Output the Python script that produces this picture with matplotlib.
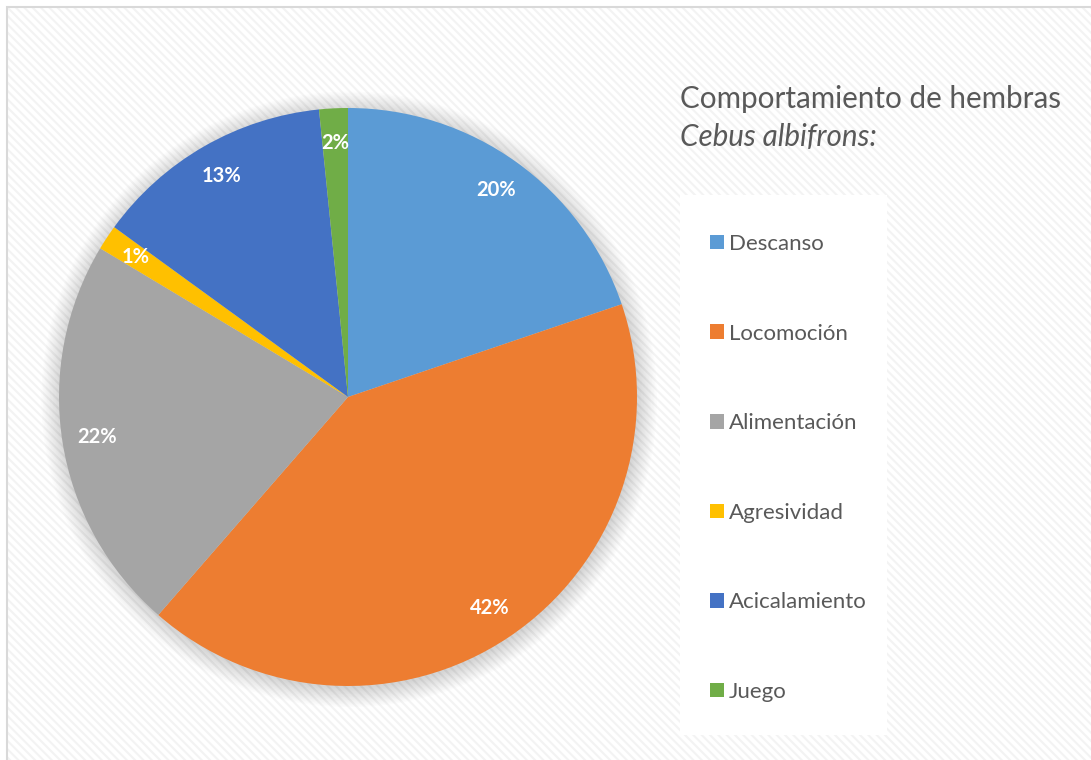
import matplotlib
matplotlib.use("Agg")
import matplotlib.pyplot as plt
from matplotlib.patches import Rectangle, Circle, Patch

plt.rcParams.update({
    "font.family": ["Lato", "DejaVu Sans"],
    "hatch.linewidth": 1.5,
})

categories = ["Descanso", "Locomoción", "Alimentación", "Agresividad", "Acicalamiento", "Juego"]
shares = [19.8, 41.6, 22.2, 1.4, 13.4, 1.6]
colors = ["#5B9BD5", "#ED7D31", "#A5A5A5", "#FFC000", "#4472C4", "#70AD47"]
title_line1 = "Comportamiento de hembras"
title_line2 = "Cebus albifrons:"

W, H = 1091, 760
fig = plt.figure(figsize=(W / 100, H / 100), dpi=100)
fig.patch.set_facecolor("white")


def fx(px):
    return px / W


def fy(py):
    return 1 - py / H


# hatched chart background + thin border
fig.add_artist(Rectangle((fx(7), 0), 1, fy(7), transform=fig.transFigure,
                         facecolor="white", edgecolor="#f3f3f3", hatch="\\\\\\\\",
                         linewidth=0, zorder=0))
fig.add_artist(Rectangle((fx(7), -0.01), 1, fy(7) + 0.01, transform=fig.transFigure,
                         facecolor="none", edgecolor="#d9d9d9", linewidth=1.5, zorder=1))

# white box behind legend
fig.add_artist(Rectangle((fx(680), fy(735)), fx(887) - fx(680), fy(195) - fy(735),
                         transform=fig.transFigure, facecolor="white",
                         edgecolor="none", zorder=1))

# pie axes: center (348, 397), radius 289 px
cx, cy, r = 348, 397, 289
ax = fig.add_axes([fx(cx - r), fy(cy + r), 2 * r / W, 2 * r / H])
ax.set_zorder(2)
ax.patch.set_alpha(0)

# soft shadow (glow around the pie, a bit heavier below)
for k in range(14):
    ax.add_patch(Circle((0.004, -0.008), 1.0 + 0.005 * k, facecolor="black",
                        edgecolor="none", alpha=0.012, zorder=0, clip_on=False))

wedges, texts, autotexts = ax.pie(
    shares, colors=colors, startangle=90, counterclock=False,
    autopct="%.0f%%", pctdistance=0.88, radius=1.0,
    wedgeprops={"linewidth": 0},
    textprops={"color": "white", "fontsize": 14.5, "fontweight": "bold"},
)
for w in wedges:
    w.set_zorder(2)
for t in autotexts:
    t.set_zorder(3)
ax.set_xlim(-1, 1)
ax.set_ylim(-1, 1)
ax.set_aspect("equal")
ax.axis("off")

# title
fig.text(fx(680), fy(108), title_line1, fontsize=21.3, color="#595959", va="baseline", ha="left")
fig.text(fx(680), fy(146), title_line2, fontsize=21.3, color="#595959", va="baseline",
         ha="left", style="italic")

# legend
handles = [Patch(facecolor=c, edgecolor="none", label=l) for c, l in zip(colors, categories)]
leg = fig.legend(handles=handles, loc="upper left",
                 bbox_to_anchor=(fx(710), fy(234)), bbox_transform=fig.transFigure,
                 frameon=False, fontsize=16, labelcolor="#595959",
                 handlelength=0.63, handleheight=0.63, handletextpad=0.22,
                 labelspacing=3.13, borderpad=0, borderaxespad=0)
leg.set_zorder(5)

fig.savefig("out.png", dpi=100, facecolor="white")
